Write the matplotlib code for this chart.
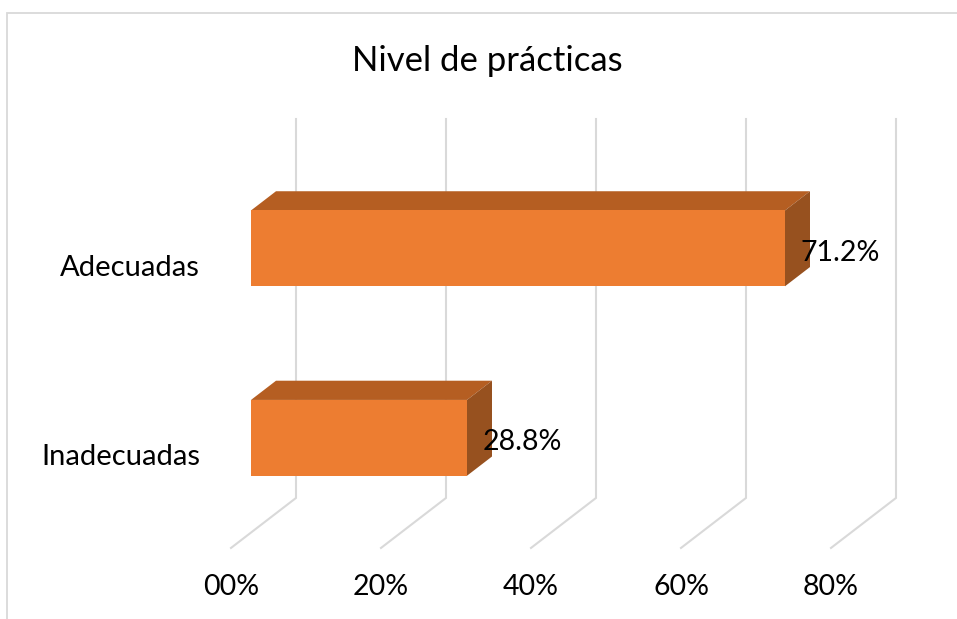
# Nivel de prácticas - 3D style horizontal bar chart

import matplotlib.pyplot as plt
from matplotlib.patches import Polygon, Rectangle

categories = ["Inadecuadas", "Adecuadas"]
values = [28.8, 71.2]
ticks = [0, 20, 40, 60, 80]
tick_labels = ["00%", "20%", "40%", "60%", "80%"]

# oblique projection: depth 1 moves a point by DX (percent) and DY (category units)
DX = 65 / 7.5
DY = 50 / 189.5
FRONT, BACK = 20 / 65, 45 / 65  # depth of bar front/back faces
BAR_H = 0.4

FACE = "#ED7D31"
TOP = "#B55E22"
SIDE = "#97511F"
GRID = "#D9D9D9"

plt.rcParams["font.family"] = ["Lato", "DejaVu Sans"]


def proj(v, c, d):
  return v + d * DX, c + d * DY


fig = plt.figure(figsize=(9.57, 6.19), dpi=100)
ax = fig.add_axes([0, 0, 1, 1])
ax.set_xlim(-30.8, 96.8)
ax.set_ylim(-0.375, 2.892)
ax.axis("off")

# back wall and floor gridlines
for t in ticks:
  x0, y0 = proj(t, 0, 0)
  x1, y1 = proj(t, 0, 1)
  x2, y2 = proj(t, 2, 1)
  ax.plot([x0, x1, x2], [y0, y1, y2], color=GRID, lw=1.5, zorder=1,
          solid_joinstyle="miter")

for i, (cat, val) in enumerate(zip(categories, values)):
  c = i + 0.5
  lo, hi = c - BAR_H / 2, c + BAR_H / 2
  front = [proj(0, lo, FRONT), proj(val, lo, FRONT), proj(val, hi, FRONT), proj(0, hi, FRONT)]
  top = [proj(0, hi, FRONT), proj(val, hi, FRONT), proj(val, hi, BACK), proj(0, hi, BACK)]
  side = [proj(val, lo, FRONT), proj(val, hi, FRONT), proj(val, hi, BACK), proj(val, lo, BACK)]
  ax.add_patch(Polygon(top, closed=True, fc=TOP, ec="none", zorder=2))
  ax.add_patch(Polygon(side, closed=True, fc=SIDE, ec="none", zorder=2))
  ax.add_patch(Polygon(front, closed=True, fc=FACE, ec="none", zorder=3))

  ax.annotate(f"{val:.1f}%", xy=proj(val, c, FRONT), xytext=(11, -3),
              textcoords="offset points", ha="left", va="center",
              fontsize=20.5, color="black", zorder=4)
  ax.text(-4.13, c - 0.02, cat, ha="right", va="center", fontsize=21)

for t, lab in zip(ticks, tick_labels):
  ax.text(t, -0.206, lab, ha="center", va="center", fontsize=20.5)

ax.text(0.509, 1 - 61 / 619, "Nivel de prácticas", transform=fig.transFigure,
        ha="center", va="center", fontsize=25)

# chart area border
fig.add_artist(Rectangle((7 / 957, -0.1), 1.2, 1 - 12.5 / 619 + 0.1,
                         transform=fig.transFigure, fill=False, ec=GRID, lw=1.3))

fig.savefig("out.png", dpi=100)
